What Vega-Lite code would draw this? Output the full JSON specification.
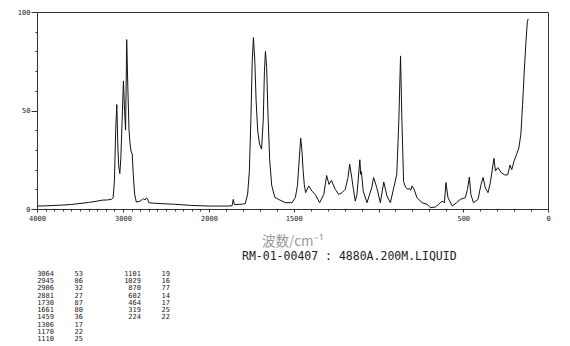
{
  "$schema": "https://vega.github.io/schema/vega-lite/v6.json",
  "background": "white",
  "padding": {"left": 16, "top": 7, "right": 5, "bottom": 0},
  "spacing": 2,
  "config": {
    "view": {"stroke": "#333", "strokeWidth": 1},
    "font": "DejaVu Sans Mono",
    "axis": {"domainColor": "#333", "tickColor": "#333", "labelColor": "#222", "grid": false}
  },
  "vconcat": [
    {
      "width": 511,
      "height": 197,
      "view": {"stroke": "#333", "strokeWidth": 1, "fill": "white"},
      "data": {"values": [
        {"wn": 4000, "val": 1.5}, {"wn": 3900, "val": 1.6}, {"wn": 3800, "val": 1.8}, {"wn": 3700, "val": 2.0},
        {"wn": 3600, "val": 2.3}, {"wn": 3500, "val": 2.8}, {"wn": 3400, "val": 3.3}, {"wn": 3300, "val": 4.0},
        {"wn": 3240, "val": 4.5}, {"wn": 3180, "val": 4.6}, {"wn": 3130, "val": 5.0}, {"wn": 3115, "val": 5.7},
        {"wn": 3100, "val": 14}, {"wn": 3085, "val": 40}, {"wn": 3072, "val": 53}, {"wn": 3060, "val": 32},
        {"wn": 3050, "val": 22}, {"wn": 3037, "val": 18}, {"wn": 3025, "val": 26}, {"wn": 3010, "val": 45},
        {"wn": 2995, "val": 65}, {"wn": 2982, "val": 50}, {"wn": 2970, "val": 40}, {"wn": 2957, "val": 86},
        {"wn": 2944, "val": 62}, {"wn": 2930, "val": 40}, {"wn": 2918, "val": 33}, {"wn": 2905, "val": 29},
        {"wn": 2893, "val": 28}, {"wn": 2880, "val": 17}, {"wn": 2865, "val": 7.6}, {"wn": 2845, "val": 3.5},
        {"wn": 2800, "val": 4}, {"wn": 2775, "val": 4.8}, {"wn": 2760, "val": 5.2}, {"wn": 2745, "val": 4.6},
        {"wn": 2730, "val": 5.6}, {"wn": 2715, "val": 5.2}, {"wn": 2700, "val": 3.2}, {"wn": 2660, "val": 3.0},
        {"wn": 2500, "val": 2.6}, {"wn": 2392, "val": 2.4}, {"wn": 2200, "val": 1.8}, {"wn": 2000, "val": 1.5},
        {"wn": 1950, "val": 1.5}, {"wn": 1900, "val": 1.5}, {"wn": 1864, "val": 1.6}, {"wn": 1857, "val": 4.9},
        {"wn": 1850, "val": 2.2}, {"wn": 1800, "val": 2.5}, {"wn": 1786, "val": 2.7}, {"wn": 1772, "val": 7.6},
        {"wn": 1762, "val": 19}, {"wn": 1753, "val": 45}, {"wn": 1745, "val": 75}, {"wn": 1738, "val": 87},
        {"wn": 1730, "val": 76}, {"wn": 1722, "val": 55}, {"wn": 1713, "val": 40}, {"wn": 1702, "val": 33},
        {"wn": 1690, "val": 30.4}, {"wn": 1680, "val": 45}, {"wn": 1673, "val": 70}, {"wn": 1667, "val": 80},
        {"wn": 1660, "val": 72}, {"wn": 1652, "val": 48}, {"wn": 1642, "val": 25}, {"wn": 1630, "val": 12},
        {"wn": 1612, "val": 6}, {"wn": 1590, "val": 4.9}, {"wn": 1550, "val": 3.2}, {"wn": 1510, "val": 3.2},
        {"wn": 1490, "val": 6}, {"wn": 1478, "val": 12}, {"wn": 1467, "val": 26}, {"wn": 1459, "val": 36},
        {"wn": 1452, "val": 30}, {"wn": 1445, "val": 20}, {"wn": 1438, "val": 12.5}, {"wn": 1430, "val": 8.3},
        {"wn": 1412, "val": 11.7}, {"wn": 1392, "val": 9}, {"wn": 1373, "val": 7.4}, {"wn": 1347, "val": 3.2},
        {"wn": 1323, "val": 7.4}, {"wn": 1306, "val": 17}, {"wn": 1292, "val": 12.5}, {"wn": 1278, "val": 14.5},
        {"wn": 1255, "val": 10}, {"wn": 1235, "val": 7.4}, {"wn": 1215, "val": 8.3}, {"wn": 1196, "val": 10},
        {"wn": 1180, "val": 16}, {"wn": 1170, "val": 22.7}, {"wn": 1158, "val": 16}, {"wn": 1148, "val": 10},
        {"wn": 1137, "val": 4}, {"wn": 1127, "val": 7.4}, {"wn": 1110, "val": 25}, {"wn": 1105, "val": 17.6},
        {"wn": 1101, "val": 19}, {"wn": 1090, "val": 9}, {"wn": 1068, "val": 3.2}, {"wn": 1040, "val": 10.8},
        {"wn": 1029, "val": 16}, {"wn": 1010, "val": 10.8}, {"wn": 989, "val": 3.2}, {"wn": 969, "val": 13.7},
        {"wn": 950, "val": 6.6}, {"wn": 930, "val": 3.2}, {"wn": 910, "val": 10.8}, {"wn": 892, "val": 17.6},
        {"wn": 880, "val": 45}, {"wn": 870, "val": 77.7}, {"wn": 862, "val": 45}, {"wn": 852, "val": 14},
        {"wn": 840, "val": 11}, {"wn": 826, "val": 10}, {"wn": 818, "val": 10.5}, {"wn": 810, "val": 9.5},
        {"wn": 802, "val": 11.7}, {"wn": 790, "val": 10}, {"wn": 773, "val": 5.7}, {"wn": 743, "val": 3.2},
        {"wn": 714, "val": 2.4}, {"wn": 694, "val": 0.7}, {"wn": 665, "val": 1}, {"wn": 645, "val": 2.4},
        {"wn": 625, "val": 4}, {"wn": 611, "val": 3.2}, {"wn": 602, "val": 13.4}, {"wn": 590, "val": 5.7},
        {"wn": 564, "val": 1.5}, {"wn": 540, "val": 3.2}, {"wn": 517, "val": 4.9}, {"wn": 488, "val": 5.7},
        {"wn": 475, "val": 10}, {"wn": 464, "val": 16.2}, {"wn": 455, "val": 7.4}, {"wn": 440, "val": 3.2},
        {"wn": 413, "val": 4.9}, {"wn": 395, "val": 12.5}, {"wn": 383, "val": 16}, {"wn": 370, "val": 10.8},
        {"wn": 354, "val": 8.3}, {"wn": 340, "val": 13.4}, {"wn": 330, "val": 19.3}, {"wn": 319, "val": 25.7},
        {"wn": 310, "val": 19.3}, {"wn": 296, "val": 21}, {"wn": 275, "val": 18.4}, {"wn": 255, "val": 17.3},
        {"wn": 238, "val": 17.3}, {"wn": 224, "val": 22.3}, {"wn": 214, "val": 20}, {"wn": 200, "val": 24.4},
        {"wn": 185, "val": 27.8}, {"wn": 172, "val": 31}, {"wn": 160, "val": 38}, {"wn": 150, "val": 53},
        {"wn": 140, "val": 70}, {"wn": 130, "val": 85}, {"wn": 122, "val": 95}, {"wn": 117, "val": 96.5}
      ]},
      "mark": {"type": "line", "color": "#111", "strokeWidth": 1},
      "encoding": {
        "x": {
          "field": "wn", "type": "quantitative",
          "scale": {"domain": [4000, 2000, 0], "range": [0, 172, 511], "nice": false, "zero": false},
          "axis": {
            "values": [4000,3900,3800,3700,3600,3500,3400,3300,3200,3100,3000,2900,2800,2700,2600,2500,2400,2300,2200,2100,2000,1900,1800,1700,1600,1500,1400,1300,1200,1100,1000,900,800,700,600,500,400,300,200,100,0],
            "labelExpr": "indexof([4000,3000,2000,1500,500,0], datum.value) >= 0 ? format(datum.value, 'd') : ''",
            "labelFont": "DejaVu Sans Mono", "labelFontSize": 7, "labelOverlap": false, "labelFlush": false, "labelPadding": 2,
            "tickSize": {"condition": {"test": "indexof([4000,3000,2000,1500,1000,500,0], datum.value) >= 0", "value": 3}, "value": 2},
            "title": "波数/cm⁻¹", "titleFont": "Noto Sans CJK JP", "titleFontSize": 13.5, "titleFontWeight": "normal",
            "titleColor": "#999", "titlePadding": 13
          }
        },
        "y": {
          "field": "val", "type": "quantitative",
          "scale": {"domain": [0, 100], "nice": false},
          "axis": {
            "values": [0,10,20,30,40,50,60,70,80,90,100],
            "labelExpr": "indexof([0,50,100], datum.value) >= 0 ? format(datum.value, 'd') : ''",
            "labelFont": "DejaVu Sans Mono", "labelFontSize": 7, "labelOverlap": false, "labelFlush": false, "labelPadding": 1,
            "tickSize": {"condition": {"test": "indexof([0,50,100], datum.value) >= 0", "value": 6}, "value": 2},
            "title": null
          }
        }
      }
    },
    {
      "width": 200,
      "height": 65,
      "view": {"stroke": null},
      "title": {"text": "RM-01-00407 : 4880A.200M.LIQUID", "anchor": "start", "dx": 205, "font": "DejaVu Sans Mono", "fontSize": 11.5, "fontWeight": "normal", "color": "#222", "offset": 8},
      "data": {"values": [
        {"block": "A", "row": 0, "wn": "3064", "int": "53"},
        {"block": "A", "row": 1, "wn": "2945", "int": "86"},
        {"block": "A", "row": 2, "wn": "2906", "int": "32"},
        {"block": "A", "row": 3, "wn": "2881", "int": "27"},
        {"block": "A", "row": 4, "wn": "1730", "int": "87"},
        {"block": "A", "row": 5, "wn": "1661", "int": "80"},
        {"block": "A", "row": 6, "wn": "1459", "int": "36"},
        {"block": "A", "row": 7, "wn": "1306", "int": "17"},
        {"block": "A", "row": 8, "wn": "1170", "int": "22"},
        {"block": "A", "row": 9, "wn": "1110", "int": "25"},
        {"block": "B", "row": 0, "wn": "1101", "int": "19"},
        {"block": "B", "row": 1, "wn": "1029", "int": "16"},
        {"block": "B", "row": 2, "wn": "870", "int": "77"},
        {"block": "B", "row": 3, "wn": "602", "int": "14"},
        {"block": "B", "row": 4, "wn": "464", "int": "17"},
        {"block": "B", "row": 5, "wn": "319", "int": "25"},
        {"block": "B", "row": 6, "wn": "224", "int": "22"}
      ]},
      "encoding": {
        "x": {"field": "block", "type": "ordinal", "scale": {"type": "point", "domain": ["A", "B"], "range": [17, 104], "padding": 0}, "axis": null},
        "y": {"field": "row", "type": "quantitative", "scale": {"domain": [0, 9], "range": [0, 65], "nice": false, "zero": false}, "axis": null}
      },
      "layer": [
        {"mark": {"type": "text", "align": "right", "baseline": "middle", "fontSize": 7, "font": "DejaVu Sans Mono", "color": "#222"}, "encoding": {"text": {"field": "wn"}}},
        {"mark": {"type": "text", "align": "right", "baseline": "middle", "fontSize": 7, "font": "DejaVu Sans Mono", "color": "#222", "dx": 29}, "encoding": {"text": {"field": "int"}}}
      ]
    }
  ]
}
